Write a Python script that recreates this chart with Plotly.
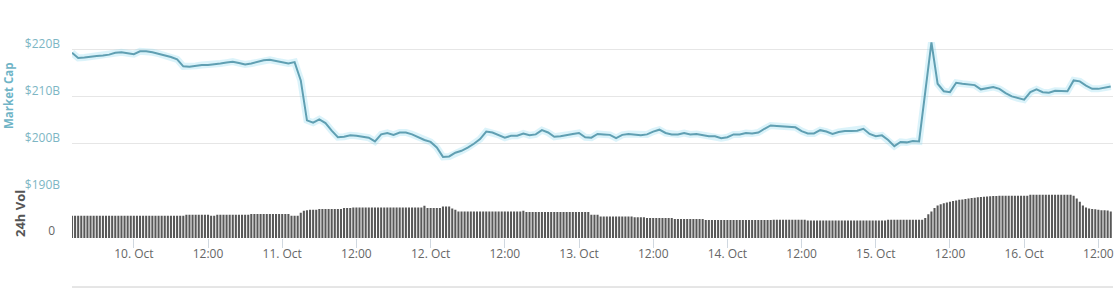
import pandas as pd
import plotly.graph_objects as go

# ---------------- data ----------------
start = "2018-10-09 14:00"

# Total market cap, $B, hourly from 9 Oct 14:00
market_cap = [
    219.4, 218.3, 218.4, 218.6, 218.7, 218.8, 219.0, 219.4, 219.5, 219.3, 219.1, 219.7,
    219.7, 219.5, 219.2, 218.9, 218.5, 218.0, 216.5, 216.4, 216.6, 216.8, 216.8, 216.9,
    217.1, 217.3, 217.5, 217.2, 216.9, 217.1, 217.4, 217.8, 217.9, 217.6, 217.3, 217.1,
    217.4, 213.5, 205.0, 204.5, 205.2, 204.4, 202.8, 201.4, 201.5, 201.8, 201.7, 201.5,
    201.3, 200.5, 202.0, 202.3, 201.9, 202.4, 202.4, 202.0, 201.4, 200.8, 200.4, 199.2,
    197.2, 197.3, 198.1, 198.5, 199.2, 200.0, 201.0, 202.6, 202.4, 201.9, 201.3, 201.7,
    201.7, 202.2, 201.8, 202.0, 202.9, 202.4, 201.5, 201.6, 201.9, 202.1, 202.3, 201.4,
    201.3, 202.1, 202.0, 201.9, 201.2, 201.9, 202.1, 202.0, 201.8, 202.0, 202.6, 203.0,
    202.3, 202.0, 202.0, 202.3, 202.0, 202.1, 201.9, 201.6, 201.6, 201.2, 201.4, 202.0,
    202.0, 202.3, 202.2, 202.4, 203.2, 203.9, 203.8, 203.7, 203.6, 203.5, 202.7, 202.2,
    202.2, 202.9, 202.6, 202.1, 202.5, 202.7, 202.7, 202.8, 203.2, 202.1, 201.6, 201.8,
    200.8, 199.5, 200.4, 200.3, 200.6, 200.5, 211.0, 221.6, 212.8, 211.2, 211.0, 213.0,
    212.8, 212.7, 212.5, 211.6, 211.9, 212.1, 211.7, 210.8, 210.1, 209.7, 209.4, 211.0,
    211.6, 211.0, 210.9, 211.3, 211.3, 211.2, 213.5, 213.3, 212.4, 211.7, 211.7, 211.9,
    212.2,
]

# 24h volume, $B, every 30 minutes from 9 Oct 14:00
volume = [
    8.9, 8.9, 8.9, 8.9, 8.9, 8.9, 8.9, 8.9, 8.9, 8.9,
    8.9, 8.9, 8.9, 8.9, 8.9, 8.9, 8.9, 8.9, 8.9, 8.9,
    8.9, 8.9, 8.9, 8.9, 8.9, 8.9, 8.9, 8.9, 8.9, 8.9,
    8.9, 8.9, 8.9, 8.9, 8.9, 8.9, 8.9,
    9.3, 9.3, 9.3, 9.3, 9.3, 9.3, 9.3, 9.3,
    8.9, 8.9,
    9.3, 9.3, 9.3, 9.3, 9.3, 9.3, 9.3, 9.3, 9.3, 9.3, 9.3,
    9.6, 9.6, 9.6, 9.6, 9.6, 9.6, 9.6, 9.6, 9.6, 9.6, 9.6, 9.6, 9.6,
    8.9, 8.9, 8.9,
    10.1, 10.9, 11.1,
    11.3, 11.3, 11.3,
    11.6, 11.6, 11.6, 11.6, 11.6, 11.6, 11.6, 11.6,
    12.0, 12.0, 12.0,
    12.2, 12.2, 12.2, 12.2, 12.2, 12.2, 12.2, 12.2, 12.2, 12.2,
    12.2, 12.2, 12.2, 12.2, 12.2, 12.2, 12.2, 12.2, 12.2, 12.2,
    12.2, 12.2, 12.2,
    12.9,
    12.0, 12.0, 12.0, 12.0, 12.0,
    12.6, 12.6, 12.6,
    11.8, 11.3,
    10.6, 10.6, 10.6, 10.6, 10.6, 10.6, 10.6, 10.6, 10.6, 10.6,
    10.6, 10.6, 10.6, 10.6, 10.6, 10.6, 10.6, 10.6, 10.6, 10.6, 10.6,
    10.9,
    10.4, 10.4, 10.4, 10.4, 10.4, 10.4, 10.4, 10.4, 10.4, 10.4,
    10.4, 10.4, 10.4, 10.4, 10.4, 10.4, 10.4, 10.4, 10.4, 10.4, 10.4,
    9.3, 9.3, 9.3,
    8.6, 8.6, 8.6, 8.6, 8.6, 8.6, 8.6, 8.6, 8.6, 8.6, 8.6,
    8.3, 8.3, 8.3, 8.3,
    8.0, 8.0, 8.0, 8.0, 8.0, 8.0, 8.0, 8.0, 8.0,
    7.6, 7.6, 7.6, 7.6, 7.6, 7.6, 7.6, 7.6, 7.6, 7.6,
    7.2, 7.2, 7.2, 7.2, 7.2, 7.2, 7.2, 7.2, 7.2, 7.2, 7.2,
    7.2, 7.2, 7.2, 7.2, 7.2, 7.2, 7.2, 7.2, 7.2, 7.2, 7.2,
    7.3, 7.3, 7.3, 7.3, 7.3, 7.3, 7.3, 7.3, 7.3, 7.3, 7.3,
    7.0, 7.0, 7.0, 7.0, 7.0, 7.0, 7.0, 7.0, 7.0, 7.0, 7.0, 7.0, 7.0,
    7.0, 7.0, 7.0, 7.0, 7.0, 7.0, 7.0, 7.0, 7.0, 7.0, 7.0, 7.0, 7.0,
    7.3, 7.3, 7.3, 7.3, 7.3, 7.3, 7.3, 7.3, 7.3, 7.3, 7.3, 7.3,
    8.0, 9.5, 10.6, 12.0, 13.0, 13.5, 13.9, 14.2, 14.5, 14.8, 15.0, 15.3,
    15.4, 15.6, 15.8, 16.0, 16.1, 16.3, 16.4, 16.5, 16.6, 16.7, 16.8, 16.8,
    16.9, 16.9, 16.9, 16.9, 16.9, 16.9, 16.9, 16.9, 16.9, 16.9,
    17.3, 17.3, 17.3, 17.3, 17.3, 17.3, 17.3, 17.3, 17.3, 17.3, 17.3, 17.3, 17.3, 17.3,
    16.9, 15.8, 14.5, 13.0, 12.2, 11.8, 11.6, 11.5, 11.3, 11.1, 11.1, 11.0, 10.6,
]

x_tick_vals = [
    "2018-10-10 00:00", "2018-10-10 12:00", "2018-10-11 00:00", "2018-10-11 12:00",
    "2018-10-12 00:00", "2018-10-12 12:00", "2018-10-13 00:00", "2018-10-13 12:00",
    "2018-10-14 00:00", "2018-10-14 12:00", "2018-10-15 00:00", "2018-10-15 12:00",
    "2018-10-16 00:00", "2018-10-16 12:00",
]
x_tick_text = [
    "10. Oct", "12:00", "11. Oct", "12:00", "12. Oct", "12:00", "13. Oct", "12:00",
    "14. Oct", "12:00", "15. Oct", "12:00", "16. Oct", "12:00",
]
cap_tick_vals = [190, 200, 210, 220, 230]
cap_tick_text = ["$190B", "$200B", "$210B", "$220B", ""]
vol_tick_vals = [0]
vol_tick_text = ["0"]

# ---------------- figure ----------------
t_cap = pd.date_range(start, periods=len(market_cap), freq="h")
t_vol = pd.date_range(start, periods=len(volume), freq="30min")

fig = go.Figure()
fig.add_trace(go.Bar(
    x=t_vol, y=volume, xaxis="x", yaxis="y2",
    marker=dict(color="#585858", line=dict(width=0)),
    hoverinfo="skip", showlegend=False,
))
fig.add_trace(go.Scatter(
    x=t_cap, y=market_cap, mode="lines", xaxis="x", yaxis="y",
    line=dict(color="rgba(135,215,240,0.30)", width=7),
    hoverinfo="skip", showlegend=False,
))
fig.add_trace(go.Scatter(
    x=t_cap, y=market_cap, mode="lines", xaxis="x", yaxis="y",
    line=dict(color="#609fb2", width=2),
    showlegend=False,
))

font_main = "Open Sans"
W, H = 1120, 288
ML, MR, MT, MB = 72, 7, 3, 50
plot_w = W - ML - MR
plot_h = H - MT - MB


def px_x(px):
    return (px - ML) / plot_w


def px_y(py):
    return (H - MB - py) / plot_h


vol_frac = 47.3 / plot_h

fig.update_layout(
    width=W, height=H,
    margin=dict(l=ML, r=MR, t=MT, b=MB, pad=0),
    paper_bgcolor="white", plot_bgcolor="white",
    bargap=0.33,
    showlegend=False,
    font=dict(family=font_main, size=11, color="#666666"),
    xaxis=dict(
        anchor="y2",
        range=["2018-10-09 14:00", "2018-10-16 14:22"],
        tickvals=x_tick_vals, ticktext=x_tick_text,
        ticks="outside", ticklen=9, tickcolor="#d0d8e0", tickwidth=1,
        showgrid=False, zeroline=False, showline=False,
        tickfont=dict(family=font_main, size=12, color="#666666"),
        ticklabelstandoff=-4,
    ),
    yaxis=dict(
        domain=[vol_frac, 1],
        range=[190, 230],
        tickvals=cap_tick_vals, ticktext=cap_tick_text,
        showgrid=True, gridcolor="#e6e6e6", gridwidth=1,
        zeroline=False, showline=False, ticks="",
        tickfont=dict(family=font_main, size=12, color="#7db6c4"),
        ticklabelshift=-6, ticklabelstandoff=11,
    ),
    yaxis2=dict(
        domain=[0, vol_frac],
        range=[0, 18.92],
        tickvals=vol_tick_vals, ticktext=vol_tick_text,
        showgrid=False, zeroline=False, showline=False, ticks="",
        tickfont=dict(family=font_main, size=12, color="#666666"),
        ticklabelshift=-7, ticklabelstandoff=16,
    ),
    shapes=[
        dict(type="line", xref="paper", yref="paper",
             x0=0, x1=1, y0=px_y(287), y1=px_y(287),
             line=dict(color="#cccccc", width=1)),
    ],
    annotations=[
        dict(text="Market Cap", xref="paper", yref="paper",
             x=px_x(8), y=px_y(96), textangle=-90, showarrow=False,
             xanchor="center", yanchor="middle",
             font=dict(family=font_main, size=11.5, color="#6fb4c6", weight=700)),
        dict(text="24h Vol", xref="paper", yref="paper",
             x=px_x(20), y=px_y(214), textangle=-90, showarrow=False,
             xanchor="center", yanchor="middle",
             font=dict(family=font_main, size=13, color="#555555", weight=700)),
    ],
)

fig.write_html("out.html")
